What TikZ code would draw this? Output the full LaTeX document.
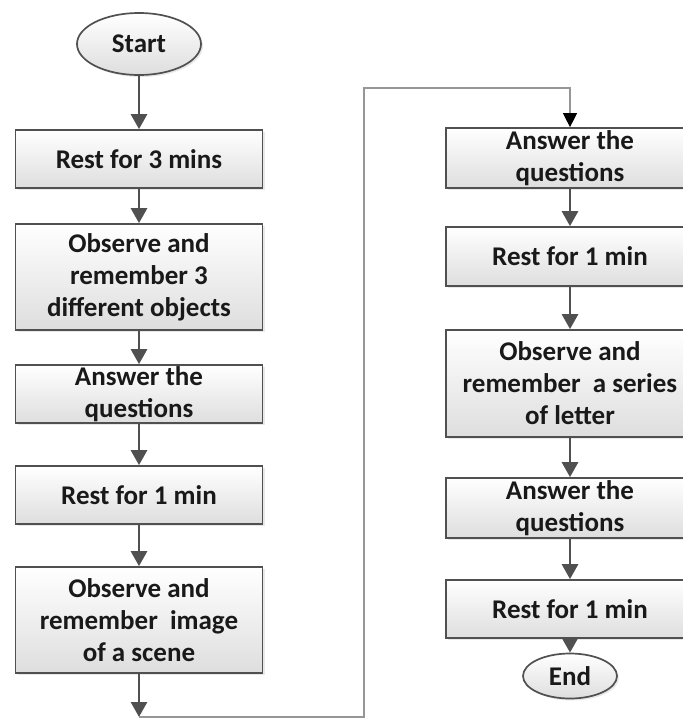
\documentclass[tikz,border=0pt]{standalone}
\usepackage{fontspec}
\setmainfont{Carlito}
\usetikzlibrary{shapes.geometric,arrows.meta,shadows}
\definecolor{edgegray}{RGB}{80,80,80}
\definecolor{linkgray}{RGB}{150,150,150}

\begin{document}
\begin{tikzpicture}[x=1pt,y=-1pt]
\tikzset{
  box/.style={draw=edgegray,line width=1.7pt,top color=white,bottom color=black!13,
    drop shadow={shadow xshift=2pt,shadow yshift=-2pt,opacity=.18},
    minimum height=58pt,inner xsep=2pt,inner ysep=0pt,align=center,
    font=\fontsize{27}{32}\selectfont\bfseries,text=black!90},
  lbox/.style={box,minimum width=247pt},
  rbox/.style={box,minimum width=248pt},
  term/.style={box,ellipse,inner sep=0pt},
  arr/.style={-{Triangle[length=15pt,width=16pt]},draw=edgegray,line width=2.8pt},
  link/.style={-{Triangle[length=14pt,width=14pt,color=black]},draw=linkgray,line width=1.3pt}
}
\useasboundingbox (0,0) rectangle (683,718);
\clip (0,0) rectangle (683,718);
% left column
\node[term,minimum width=124pt,minimum height=62pt] (start) at (139,44) {Start};
\node[lbox] (l1) at (139,159) {Rest for 3 mins};
\node[lbox,minimum height=106pt] (l2) at (139,277) {Observe and\\remember 3\\different objects};
\node[lbox] (l3) at (139,394) {Answer the\\questions};
\node[lbox] (l4) at (139,495) {Rest for 1 min};
\node[lbox,minimum height=106pt] (l5) at (139,620) {Observe and\\remember~ image\\of a scene};
\coordinate (turn) at (139,717);
\coordinate (rise) at (364,88);
% right column
\node[rbox,minimum height=60pt] (r1) at (570,158) {Answer the\\questions};
\node[rbox,minimum height=59pt] (r2) at (570,256.5) {Rest for 1 min};
\node[rbox,minimum height=107pt] (r3) at (570,383.5) {Observe and\\remember~ a series\\of letter};
\node[rbox,minimum height=60pt] (r4) at (570,508) {Answer the\\questions};
\node[rbox] (r5) at (570,609) {Rest for 1 min};
\node[term,minimum width=94pt,minimum height=45pt] (end) at (570,676) {End};
\draw[arr] (start) -- (l1);
\draw[arr] (l1) -- (l2);
\draw[arr] (l2) -- (l3);
\draw[arr] (l3) -- (l4);
\draw[arr] (l4) -- (l5);
\draw[arr] (l5) -- (turn);
\draw[link] (turn) -| (rise) -| (r1.north);
\draw[arr] (r1) -- (r2);
\draw[arr] (r2) -- (r3);
\draw[arr] (r3) -- (r4);
\draw[arr] (r4) -- (r5);
\draw[arr] (r5) -- (end);
\end{tikzpicture}
\end{document}
